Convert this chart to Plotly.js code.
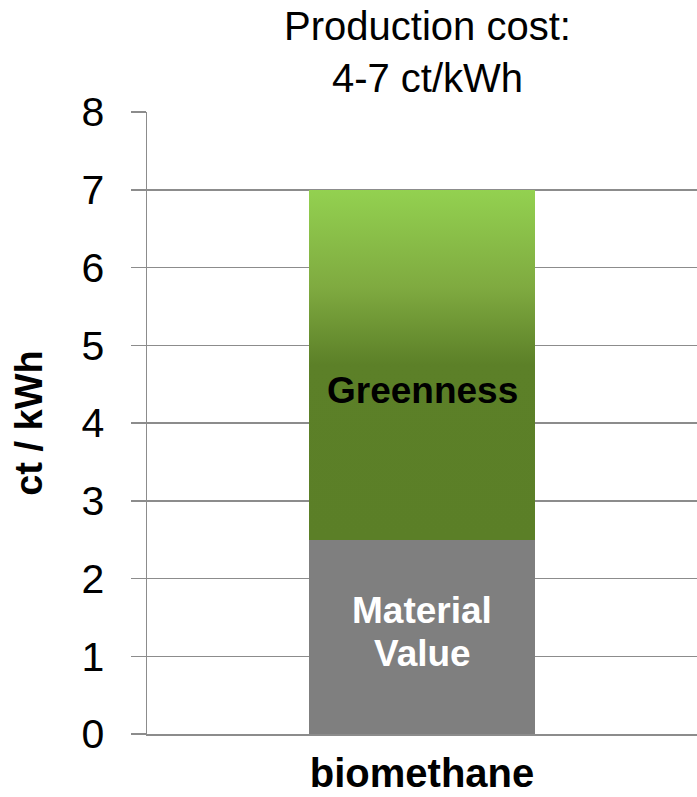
<!DOCTYPE html>
<html>
<head>
<meta charset="utf-8">
<script src="https://cdn.plot.ly/plotly-3.0.1.min.js"></script>
<style>
html,body{margin:0;padding:0;background:#fff;}
#chart{width:697px;height:797px;}
</style>
</head>
<body>
<div id="chart"></div>
<script>
// ---- data ----
const categories = ['biomethane'];
const materialValue = [2.5];
const greenness = [4.5];
const seriesNames = ['Material Value', 'Greenness'];
const segmentLabels = ['Material<br>Value', 'Greenness'];
const labelPositions = [1.31, 4.42];   // where the in-bar labels sit (ct/kWh)
const yTicks = [0, 1, 2, 3, 4, 5, 6, 7, 8];
const chartTitle = 'Production cost:<br>4-7 ct/kWh';
const yTitle = 'ct / kWh';

const FONT = 'Arial, "Liberation Sans", sans-serif';
const GRID = '#8c8c8c';

const traces = [
  {
    type: 'bar', name: seriesNames[0], x: categories, y: materialValue,
    width: 0.41, marker: {color: '#7f7f7f', line: {width: 0}},
    hoverinfo: 'skip'
  },
  {
    type: 'bar', name: seriesNames[1], x: categories, y: greenness,
    width: 0.41, marker: {color: '#5b7f27', line: {width: 0}},
    hoverinfo: 'skip'
  }
];

// in-bar labels (split multi-line label into separate lines for tighter spacing)
const annotations = [];
const labelColors = ['#ffffff', '#000000'];
segmentLabels.forEach((lab, i) => {
  const lines = lab.split('<br>');
  const spacing = 43;
  lines.forEach((ln, j) => {
    annotations.push({
      x: categories[0], y: labelPositions[i], xref: 'x', yref: 'y',
      text: '<b>' + ln + '</b>', showarrow: false,
      yshift: ((lines.length - 1) / 2 - j) * spacing,
      font: {family: FONT, size: 37, color: labelColors[i]}
    });
  });
});

const layout = {
  width: 697, height: 797,
  margin: {l: 147, r: 0, t: 112, b: 63},
  paper_bgcolor: '#ffffff', plot_bgcolor: '#ffffff',
  barmode: 'stack',
  showlegend: false,
  font: {family: FONT, color: '#000'},
  title: {
    text: chartTitle,
    font: {family: FONT, size: 40, color: '#000'},
    x: 0.51, xref: 'paper', xanchor: 'center',
    y: 0.95, yref: 'container', yanchor: 'top'
  },
  xaxis: {
    type: 'category', range: [-0.5, 0.5],
    showgrid: false, zeroline: false,
    showline: true, linecolor: GRID, linewidth: 1.5,
    ticks: '', ticklabelstandoff: 3,
    tickfont: {family: FONT, size: 40, color: '#000'},
    tickprefix: '<b>', ticksuffix: '</b>'
  },
  yaxis: {
    range: [0, 8], tickvals: yTicks, ticktext: yTicks.map(String),
    showgrid: true, gridcolor: GRID, gridwidth: 1.5,
    zeroline: false,
    showline: true, linecolor: GRID, linewidth: 1.5,
    ticks: 'outside', ticklen: 15, tickcolor: GRID, tickwidth: 1.5,
    ticklabelstandoff: 18,
    tickfont: {family: FONT, size: 41, color: '#000'},
    title: {text: '<b>' + yTitle + '</b>', font: {family: FONT, size: 38, color: '#000'}, standoff: 27}
  },
  annotations: annotations
};

Plotly.newPlot('chart', traces, layout, {staticPlot: true, displayModeBar: false}).then(gd => {
  const svgNS = 'http://www.w3.org/2000/svg';
  const defs = gd.querySelector('.main-svg defs');
  const grad = document.createElementNS(svgNS, 'linearGradient');
  grad.setAttribute('id', 'greenGrad');
  grad.setAttribute('x1', '0'); grad.setAttribute('y1', '0');
  grad.setAttribute('x2', '0'); grad.setAttribute('y2', '1');
  [['0', '#93d150'], ['0.28', '#7faa40'], ['0.5', '#5c8028'], ['1', '#5b7f27']].forEach(([o, c]) => {
    const s = document.createElementNS(svgNS, 'stop');
    s.setAttribute('offset', o); s.setAttribute('stop-color', c);
    grad.appendChild(s);
  });
  defs.appendChild(grad);
  const tr = gd.querySelectorAll('.barlayer .trace');
  if (tr[1]) tr[1].querySelectorAll('path').forEach(p => { p.style.fill = 'url(#greenGrad)'; });
});
</script>
</body>
</html>
